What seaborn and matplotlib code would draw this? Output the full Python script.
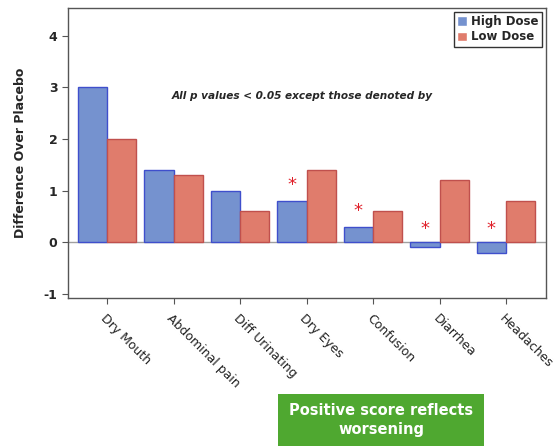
import matplotlib
matplotlib.use("Agg")
import matplotlib.pyplot as plt
import seaborn as sns
import pandas as pd
from matplotlib.patches import FancyBboxPatch

categories = ["Dry Mouth", "Abdominal pain", "Diff Urinating", "Dry Eyes",
              "Confusion", "Diarrhea", "Headaches"]
high_dose = [3.0, 1.4, 1.0, 0.8, 0.3, -0.1, -0.2]
low_dose = [2.0, 1.3, 0.6, 1.4, 0.6, 1.2, 0.8]
not_significant = [False, False, False, True, True, True, True]
series_names = ["High Dose", "Low Dose"]
yticks = [-1, 0, 1, 2, 3, 4]

df = pd.DataFrame({
    "Symptom": categories * 2,
    "Dose": [series_names[0]] * len(categories) + [series_names[1]] * len(categories),
    "Value": high_dose + low_dose,
})

sns.set_style("ticks")
plt.rcParams['font.family'] = ['DejaVu Sans']

fig = plt.figure(figsize=(5.57, 4.46), dpi=100)
ax = fig.add_axes([0.122, 0.332, 0.858, 0.650])

palette = {"High Dose": "#7592CF", "Low Dose": "#E07C6C"}
edges = {"High Dose": "#3F4FCC", "Low Dose": "#C0504D"}
sns.barplot(data=df, x="Symptom", y="Value", hue="Dose", palette=palette,
            width=0.88, ax=ax, legend=True, saturation=1)
for container, name in zip(ax.containers, series_names):
    for bar in container:
        bar.set_edgecolor(edges[name])
        bar.set_linewidth(1.0)

ax.axhline(0, color="#A0A0A0", lw=1, zorder=0.5)
ax.set_xlim(-0.59, 6.6)
ax.set_ylim(-1.08, 4.54)
ax.set_yticks(yticks)
ax.set_yticklabels([str(t) for t in yticks], fontweight="bold", fontsize=9)
ax.set_xticks(range(len(categories)))
ax.set_xticklabels(categories, rotation=-45, ha="left", va="top",
                   rotation_mode="anchor", fontsize=9, color="#222222")
ax.tick_params(axis="x", length=4, color="#555555", pad=6)
ax.tick_params(axis="y", length=4, color="#555555")
ax.set_xlabel("")
ax.set_ylabel("Difference Over Placebo", fontweight="bold", fontsize=9, labelpad=12)
for s in ax.spines.values():
    s.set_visible(True)
    s.set_color("#555555")
    s.set_linewidth(1.0)

# asterisks over high dose bars
for bar, flag, v in zip(ax.containers[0], not_significant, high_dose):
    if flag:
        x = bar.get_x() + bar.get_width() / 2
        y = v + 0.3 if v > 0 else 0.25
        ax.text(x, y, "*", color="#E0202A", ha="center", va="center",
                fontsize=13)

ax.text(2.93, 2.83, "All p values < 0.05 except those denoted by",
        ha="center", va="center", fontsize=7.6, fontstyle="italic",
        fontweight="bold")

leg = ax.legend(loc="upper right", frameon=True, fancybox=False,
                fontsize=8.5, handlelength=0.8, handleheight=0.8,
                handletextpad=0.4, borderpad=0.3, labelspacing=0.2,
                borderaxespad=0.3)
leg.get_frame().set_edgecolor("black")
leg.get_frame().set_linewidth(1.0)
for t in leg.get_texts():
    t.set_fontweight("bold")

# green note box
box = FancyBboxPatch((278 / 557, 0), (484 - 278) / 557, 52 / 446,
                     boxstyle="square,pad=0", transform=fig.transFigure,
                     facecolor="#4FA830", edgecolor="none")
fig.patches.append(box)
fig.text(381 / 557, 26 / 446, "Positive score reflects\nworsening",
         ha="center", va="center", color="white", fontsize=10.5,
         fontweight="bold", linespacing=1.4)

fig.savefig("out.png", dpi=100)
